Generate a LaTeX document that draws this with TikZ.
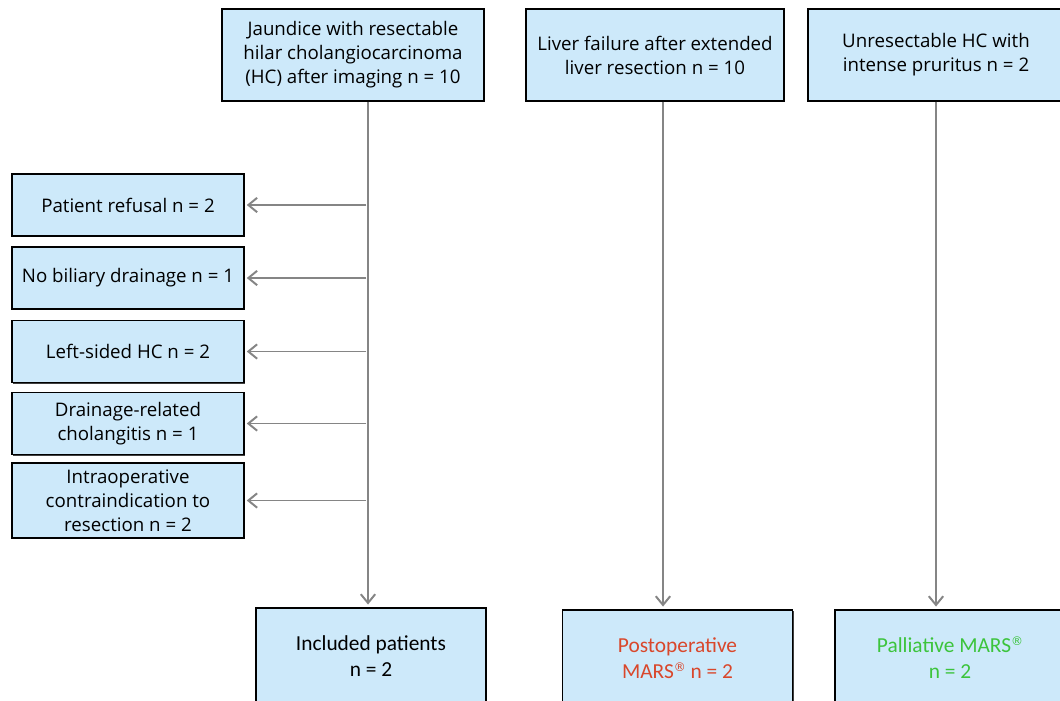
\documentclass[tikz,border=0pt]{standalone}
\usepackage{fontspec}
\setmainfont{Open Sans}
\newfontfamily\narrowfont{Carlito}
\newfontfamily\symfont{DejaVu Sans}
\usetikzlibrary{arrows.meta,shadows}
\definecolor{cbox}{HTML}{CDE9FA}
\definecolor{cline}{HTML}{858585}
\definecolor{cred}{HTML}{D9472B}
\definecolor{cgreen}{HTML}{3CC43C}
\newcommand{\regmark}{\raisebox{0.7ex}{\symfont\fontsize{8.5}{8.5}\selectfont ®}}

\begin{document}
\begin{tikzpicture}[
  x=0.025cm,y=-0.025cm,
  box/.style={draw,line width=0.9pt,fill=cbox,align=center,inner sep=2pt,
    drop shadow={shadow xshift=0.7pt,shadow yshift=-0.9pt,fill=black!75,opacity=1},
    font=\fontsize{13.3}{17}\selectfont},
  topbox/.style={box,minimum height=2.3cm},
  sidebox/.style={box,minimum width=5.8cm,minimum height=1.55cm},
  endbox/.style={box,minimum width=5.75cm,minimum height=2.4cm,
    font=\narrowfont\fontsize{15.2}{18.5}\selectfont},
  arr/.style={draw=cline,line width=1.4pt,-{Straight Barb[length=2.2mm,width=3.6mm]}}]
  \useasboundingbox (0,0) rectangle (1060,700);

  % sources
  \node[topbox,minimum width=6.55cm] (jaun) at (353,55)
    {Jaundice with resectable\\hilar cholangiocarcinoma\\(HC) after imaging n = 10};
  \node[topbox,minimum width=6.45cm] (fail) at (655,55)
    {Liver failure after extended\\liver resection n = 10};
  \node[topbox,minimum width=6.4cm] (unres) at (936,55)
    {Unresectable HC with\\intense pruritus n = 2};

  % exclusions
  \node[sidebox] (refus) at (128,205) {Patient refusal n = 2};
  \node[sidebox] (nodrain) at (128,278) {No biliary drainage n = 1};
  \node[sidebox] (left) at (128,351.5) {Left-sided HC n = 2};
  \node[sidebox] (chol) at (128,423.5) {Drainage-related\\cholangitis n = 1};
  \node[sidebox,minimum height=1.875cm] (intra) at (128,500.5)
    {Intraoperative\\contraindication to\\resection n = 2};

  % outcomes
  \node[endbox] (incl) at (371,656) {Included patients\\n = 2};
  \node[endbox,text=cred] (post) at (677.5,658) {Postoperative\\MARS\regmark\ n = 2};
  \node[endbox,text=cgreen] (pall) at (950,658) {Palliative MARS\regmark\\n = 2};

  \coordinate (s1) at (368,0);
  \coordinate (s2) at (663,0);
  \coordinate (s3) at (936,0);

  \draw[arr] (jaun.south -| s1) -- ([yshift=2pt]incl.north -| s1);
  \draw[arr] (fail.south -| s2) -- ([yshift=2pt]post.north -| s2);
  \draw[arr] (unres.south -| s3) -- ([yshift=2pt]pall.north -| s3);

  \foreach \b in {refus,nodrain,left,chol,intra}
    \draw[arr] ([xshift=-1.2pt]\b.east -| s1) -- ([xshift=1.5pt]\b.east);
\end{tikzpicture}
\end{document}
